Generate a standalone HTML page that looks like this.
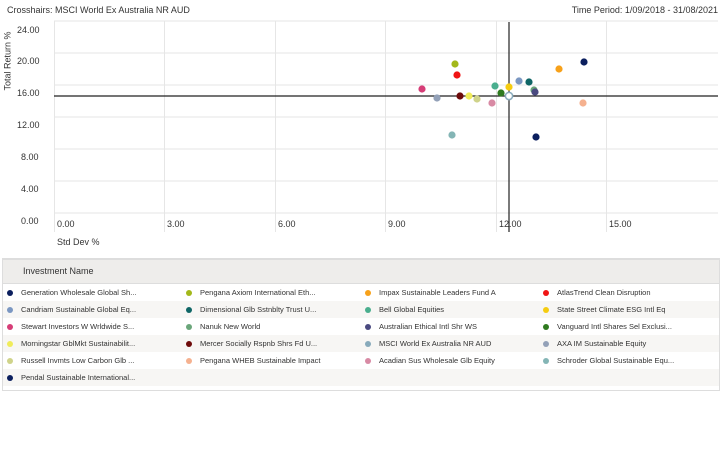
<!DOCTYPE html>
<html><head><meta charset="utf-8"><style>
body{margin:0;width:728px;height:459px;background:#fff;font-family:"Liberation Sans",sans-serif;position:relative;overflow:hidden;color:#333}
.t{position:absolute;font-size:9px;white-space:nowrap}
.lg{position:absolute;left:2px;top:258px;width:716px;height:130px;border:1px solid #ddd;border-top:2px solid #ddd}
.hd{height:23px;background:#eeedeb;border-bottom:1px solid #ddd;font-size:9px;line-height:23px;padding-left:20px}
.row{height:17px;position:relative}
.row:nth-child(even){background:#f7f6f4}
.it{position:absolute;top:0;font-size:7.5px;line-height:17px;color:#333;white-space:nowrap}
.it i{position:absolute;left:-14px;top:5.5px;width:6px;height:6px;border-radius:50%}
</style></head><body>
<div class="t" style="left:7px;top:5px">Crosshairs: MSCI World Ex Australia NR AUD</div>
<div class="t" style="right:10px;top:5px">Time Period: 1/09/2018 - 31/08/2021</div>
<div class="t" style="left:-22px;top:56px;transform:rotate(-90deg)">Total Return %</div>
<svg style="position:absolute;left:0;top:0" width="728" height="250">
<g stroke="#e6e6e6" stroke-width="1">
<line x1="54" y1="21" x2="718" y2="21"/><line x1="54" y1="53" x2="718" y2="53"/><line x1="54" y1="85" x2="718" y2="85"/><line x1="54" y1="117" x2="718" y2="117"/><line x1="54" y1="149" x2="718" y2="149"/><line x1="54" y1="181" x2="718" y2="181"/><line x1="54" y1="213" x2="718" y2="213"/>
<line x1="54.5" y1="21" x2="54.5" y2="232"/><line x1="164.5" y1="21" x2="164.5" y2="232"/><line x1="275.5" y1="21" x2="275.5" y2="232"/><line x1="385.5" y1="21" x2="385.5" y2="232"/><line x1="496.5" y1="21" x2="496.5" y2="232"/><line x1="606.5" y1="21" x2="606.5" y2="232"/>
</g>
<g font-size="9" fill="#333" font-family="Liberation Sans">
<text x="17" y="33">24.00</text><text x="17" y="64">20.00</text><text x="17" y="96">16.00</text><text x="17" y="128">12.00</text><text x="21" y="160">8.00</text><text x="21" y="192">4.00</text><text x="21" y="224">0.00</text>
<text x="57" y="227">0.00</text><text x="167" y="227">3.00</text><text x="278" y="227">6.00</text><text x="388" y="227">9.00</text><text x="499" y="227">12.00</text><text x="609" y="227">15.00</text>
<text x="57" y="245">Std Dev %</text>
</g>
<line x1="54" y1="96" x2="718" y2="96" stroke="#222" stroke-width="1.2"/>
<line x1="509" y1="22" x2="509" y2="232" stroke="#222" stroke-width="1.2"/>
<g>
<circle cx="584" cy="62" r="3.6" fill="#0b1f5e"/>
<circle cx="559" cy="69" r="3.6" fill="#f7a11a"/>
<circle cx="455" cy="64" r="3.6" fill="#a3b81a"/>
<circle cx="457" cy="75" r="3.6" fill="#f01414"/>
<circle cx="422" cy="89" r="3.6" fill="#d63d77"/>
<circle cx="437" cy="98" r="3.6" fill="#93a1b8"/>
<circle cx="460" cy="96" r="3.6" fill="#6e0b0b"/>
<circle cx="469" cy="96" r="3.6" fill="#f0ec5a"/>
<circle cx="477" cy="99" r="3.6" fill="#cfd38a"/>
<circle cx="492" cy="103" r="3.6" fill="#d88aa4"/>
<circle cx="495" cy="86" r="3.6" fill="#4aae8e"/>
<circle cx="509" cy="87" r="3.6" fill="#f5cc10"/>
<circle cx="501" cy="93" r="3.6" fill="#2f7a1f"/>
<circle cx="519" cy="81" r="3.6" fill="#7b97c2"/>
<circle cx="529" cy="82" r="3.6" fill="#0f6666"/>
<circle cx="534" cy="90" r="3.6" fill="#6aa67a"/>
<circle cx="535" cy="92" r="3.6" fill="#4a4a80"/>
<circle cx="583" cy="103" r="3.6" fill="#f5b18f"/>
<circle cx="452" cy="135" r="3.6" fill="#84b5b5"/>
<circle cx="536" cy="137" r="3.6" fill="#0b1f5e"/>
<circle cx="509" cy="96" r="3.6" fill="#fff" stroke="#8ab" stroke-width="1.5"/>
</g>
</svg>
<div class="lg">
<div class="hd">Investment Name</div>
<div>
<div class="row"><span class="it" style="left:18px"><i style="background:#0b1f5e"></i>Generation Wholesale Global Sh...</span><span class="it" style="left:197px"><i style="background:#a3b81a"></i>Pengana Axiom International Eth...</span><span class="it" style="left:376px"><i style="background:#f7a11a"></i>Impax Sustainable Leaders Fund A</span><span class="it" style="left:554px"><i style="background:#f01414"></i>AtlasTrend Clean Disruption</span></div>
<div class="row"><span class="it" style="left:18px"><i style="background:#7b97c2"></i>Candriam Sustainable Global Eq...</span><span class="it" style="left:197px"><i style="background:#0f6666"></i>Dimensional Glb Sstnblty Trust U...</span><span class="it" style="left:376px"><i style="background:#4aae8e"></i>Bell Global Equities</span><span class="it" style="left:554px"><i style="background:#f5cc10"></i>State Street Climate ESG Intl Eq</span></div>
<div class="row"><span class="it" style="left:18px"><i style="background:#d63d77"></i>Stewart Investors W Wrldwide S...</span><span class="it" style="left:197px"><i style="background:#6aa67a"></i>Nanuk New World</span><span class="it" style="left:376px"><i style="background:#4a4a80"></i>Australian Ethical Intl Shr WS</span><span class="it" style="left:554px"><i style="background:#2f7a1f"></i>Vanguard Intl Shares Sel Exclusi...</span></div>
<div class="row"><span class="it" style="left:18px"><i style="background:#f0ec5a"></i>Morningstar GblMkt Sustainabilit...</span><span class="it" style="left:197px"><i style="background:#6e0b0b"></i>Mercer Socially Rspnb Shrs Fd U...</span><span class="it" style="left:376px"><i style="background:#8ab"></i>MSCI World Ex Australia NR AUD</span><span class="it" style="left:554px"><i style="background:#93a1b8"></i>AXA IM Sustainable Equity</span></div>
<div class="row"><span class="it" style="left:18px"><i style="background:#cfd38a"></i>Russell Invmts Low Carbon Glb ...</span><span class="it" style="left:197px"><i style="background:#f5b18f"></i>Pengana WHEB Sustainable Impact</span><span class="it" style="left:376px"><i style="background:#d88aa4"></i>Acadian Sus Wholesale Glb Equity</span><span class="it" style="left:554px"><i style="background:#84b5b5"></i>Schroder Global Sustainable Equ...</span></div>
<div class="row"><span class="it" style="left:18px"><i style="background:#0b1f5e"></i>Pendal Sustainable International...</span></div>
</div>
</div>
</body></html>
